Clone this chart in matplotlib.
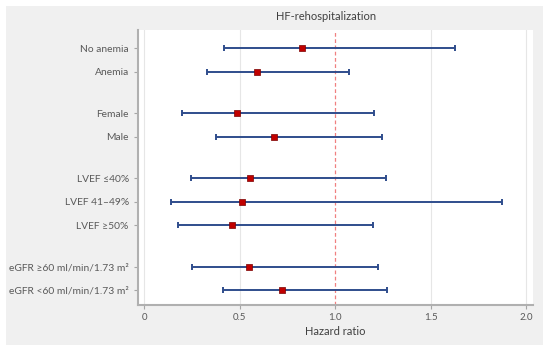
import matplotlib as mpl
mpl.use('Agg')
import matplotlib.pyplot as plt
from matplotlib.patches import Rectangle

# subgroup labels, top to bottom
labels = ['No anemia', 'Anemia', 'Female', 'Male',
          'LVEF \u226440%', 'LVEF 41\u201349%', 'LVEF \u226550%',
          'eGFR \u226560 ml/min/1.73 m\u00b2', 'eGFR <60 ml/min/1.73 m\u00b2']
hr = [0.825, 0.59, 0.484, 0.678, 0.556, 0.514, 0.458, 0.549, 0.722]
ci_low = [0.42, 0.329, 0.196, 0.376, 0.245, 0.142, 0.178, 0.25, 0.411]
ci_high = [1.627, 1.071, 1.204, 1.244, 1.265, 1.875, 1.197, 1.223, 1.27]
rows = [0, 1, 2.75, 3.75, 5.5, 6.5, 7.5, 9.25, 10.25]   # groups with gaps
xticks = [0, 0.5, 1.0, 1.5, 2.0]
xticklabels = ['0', '0.5', '1.0', '1.5', '2.0']

plt.rcParams['font.family'] = ['Lato', 'DejaVu Sans']
grey_txt = '#595959'
line_col = '#2f4d8c'

fig = plt.figure(figsize=(5.5, 3.51), dpi=100)
fig.patch.set_facecolor('white')
# grey panel behind everything
fig.patches.append(Rectangle((6 / 550, 6 / 351), 537 / 550, 339 / 351,
                             transform=fig.transFigure, facecolor='#f0f0f0',
                             edgecolor='none', zorder=-10))
ax = fig.add_axes([138 / 550, 46 / 351, 395 / 550, 275 / 351])
ax.set_facecolor('white')

for i in range(len(labels)):
    ax.errorbar(hr[i], rows[i], xerr=[[hr[i] - ci_low[i]], [ci_high[i] - hr[i]]],
                fmt='none', ecolor=line_col, elinewidth=1.4, capsize=2.2,
                capthick=1.4, zorder=3)
ax.scatter(hr, rows, marker='s', s=24, color='#c00000', edgecolors='#7a0000',
           linewidths=0.5, zorder=4)

ax.axvline(1.0, color='#f08080', linestyle=(0, (3, 2)), linewidth=0.9, zorder=2)
for x in [0, 0.5, 1.5, 2.0]:
    ax.axvline(x, color='#e6e6e6', linewidth=0.8, zorder=1)

ax.set_xlim(-0.033, 2.037)
ax.set_ylim(10.88, -0.78)
ax.set_yticks(rows)
ax.set_yticklabels(labels)
ax.set_xticks(xticks)
ax.set_xticklabels(xticklabels)
ax.tick_params(axis='both', colors='#a6a6a6', labelcolor=grey_txt, length=3, width=0.8)
ax.tick_params(axis='y', labelsize=7.4, pad=3.6)
ax.tick_params(axis='x', labelsize=7, pad=2.5)

for s in ['top', 'right']:
    ax.spines[s].set_visible(False)
for s in ['left', 'bottom']:
    ax.spines[s].set_color('#b0b0b0')
    ax.spines[s].set_linewidth(1.5)

ax.set_xlabel('Hazard ratio', fontsize=8, color='#404040', labelpad=3)
fig.text(326 / 550, 1 - 17 / 351, 'HF-rehospitalization', fontsize=8,
         color='#404040', ha='center', va='center')

plt.savefig('out.png', dpi=100, facecolor=fig.get_facecolor())
plt.close()
